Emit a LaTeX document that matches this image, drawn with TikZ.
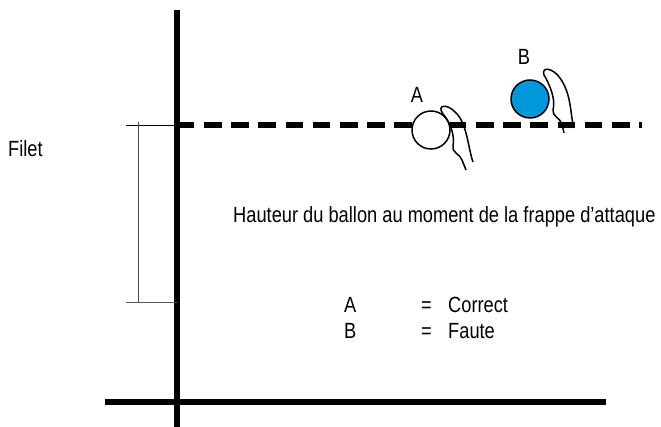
\documentclass[tikz,border=0pt]{standalone}
\usepackage{fontspec}
\setmainfont{Liberation Sans}[FakeStretch=0.83]
\usepackage{tikz}
\definecolor{ballblue}{RGB}{0,152,218}
\tikzstyle{txt}=[inner sep=0pt,anchor=base west,font=\fontsize{22}{26}\selectfont]
\tikzstyle{ball}=[circle,draw=black,line width=1.5pt,minimum size=38pt,inner sep=0pt]
\tikzstyle{hand}=[line width=1.5pt,line join=round]
\tikzstyle{thick line}=[line width=6pt]
\tikzstyle{thin line}=[line width=0.9pt]

\begin{document}
\begin{tikzpicture}[x=1pt,y=-1pt]
    \useasboundingbox (0,0) rectangle (661,427);
%    poteau et sol
    \coordinate (top) at (177,10);
    \coordinate (foot) at (177,430);
    \coordinate (left) at (105,402);
    \coordinate (right) at (606,402);
    \draw[thick line] (top) -- (foot);
    \draw[thick line] (left) -- (right);
%    filet
    \coordinate (n0) at (176.8,125);
    \coordinate (n1) at (642,125);
    \draw[line width=5.5pt,dash pattern=on 17.5pt off 9.7pt] (n0) -- (n1);
%    hauteur du filet
    \coordinate (h0) at (126,125);
    \coordinate (h1) at (126,302);
    \coordinate (v0) at (138,122);
    \coordinate (v1) at (138,303);
    \draw[thin line] (h0) -- (n0);
    \draw[thin line,black!65] (h1) -- (177,302);
    \draw[thin line,black!70] (v0) -- (v1);
    \node[txt] (filet) at (8,157) {Filet};
%    ballon A et main
    \node[ball,fill=white] (ballA) at (431,130) {};
    \node[txt,anchor=base] (labA) at (417,103) {A};
    \draw[hand] (473,162) .. controls (468,148) and (467,122) .. (455,112)
        .. controls (448,104) and (436,104) .. (443,114)
        .. controls (450,122) and (455,135) .. (453,146)
        .. controls (452,153) and (460,154) .. (462,160) -- (466,170);
%    ballon B et main
    \node[ball,fill=ballblue] (ballB) at (530,99) {};
    \node[txt,anchor=base] (labB) at (524,65) {B};
    \draw[hand] (574,128) .. controls (570,115) and (572,95) .. (560,78)
        .. controls (553,68) and (541,66) .. (544,75)
        .. controls (550,85) and (556,100) .. (553,110)
        .. controls (552,116) and (560,118) .. (562,124) -- (564,133);
%    textes
    \node[txt] (titre) at (233,223) {Hauteur du ballon au moment de la frappe d'attaque};
    \node[txt] (kA) at (344,313) {A};
    \node[txt] (eqA) at (421,313) {=};
    \node[txt] (vA) at (448,313) {Correct};
    \node[txt] (kB) at (344,339) {B};
    \node[txt] (eqB) at (421,339) {=};
    \node[txt] (vB) at (448,339) {Faute};
\end{tikzpicture}
\end{document}
